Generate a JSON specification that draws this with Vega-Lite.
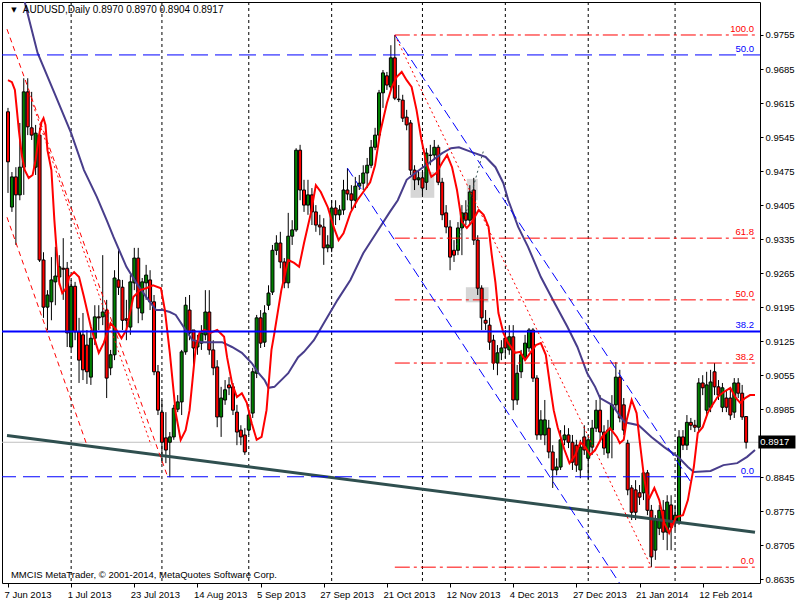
{
"$schema":"https://vega.github.io/schema/vega-lite/v6.json",
"width":758,"height":581,
"autosize":{"type":"none"},
"padding":{"left":2,"top":2,"right":40,"bottom":17},
"background":"white",
"config":{"view":{"stroke":"black","strokeWidth":1},"font":"Liberation Sans","axis":{"labelOverlap":false}},
"datasets":{
"k":[
{"i":0,"o":0.9597,"h":0.9605,"l":0.9430,"c":0.9494},
{"i":1,"o":0.9401,"h":0.9473,"l":0.9391,"c":0.9463},
{"i":2,"o":0.9463,"h":0.9483,"l":0.9323,"c":0.9426},
{"i":3,"o":0.9426,"h":0.9574,"l":0.9415,"c":0.9483},
{"i":4,"o":0.9483,"h":0.9666,"l":0.9426,"c":0.9638},
{"i":5,"o":0.9638,"h":0.9666,"l":0.9549,"c":0.9566},
{"i":6,"o":0.9564,"h":0.9638,"l":0.9539,"c":0.9549},
{"i":7,"o":0.9483,"h":0.9570,"l":0.9467,"c":0.9553},
{"i":8,"o":0.9549,"h":0.9564,"l":0.9288,"c":0.9292},
{"i":9,"o":0.9292,"h":0.9308,"l":0.9173,"c":0.9195},
{"i":10,"o":0.9195,"h":0.9230,"l":0.9148,"c":0.9220},
{"i":11,"o":0.9206,"h":0.9298,"l":0.9168,"c":0.9251},
{"i":12,"o":0.9247,"h":0.9319,"l":0.9199,"c":0.9259},
{"i":13,"o":0.9257,"h":0.9302,"l":0.9240,"c":0.9278},
{"i":14,"o":0.9275,"h":0.9337,"l":0.9210,"c":0.9273},
{"i":15,"o":0.9275,"h":0.9288,"l":0.9113,"c":0.9142},
{"i":16,"o":0.9113,"h":0.9251,"l":0.9107,"c":0.9238},
{"i":17,"o":0.9238,"h":0.9247,"l":0.9127,"c":0.9144},
{"i":18,"o":0.9144,"h":0.9173,"l":0.9039,"c":0.9086},
{"i":19,"o":0.9138,"h":0.9183,"l":0.9045,"c":0.9066},
{"i":20,"o":0.9117,"h":0.9148,"l":0.9037,"c":0.9062},
{"i":21,"o":0.9051,"h":0.9148,"l":0.9035,"c":0.9131},
{"i":22,"o":0.9131,"h":0.9199,"l":0.9117,"c":0.9175},
{"i":23,"o":0.9175,"h":0.9199,"l":0.9148,"c":0.9173},
{"i":24,"o":0.9175,"h":0.9302,"l":0.9158,"c":0.9185},
{"i":25,"o":0.9189,"h":0.9210,"l":0.9008,"c":0.9049},
{"i":26,"o":0.9070,"h":0.9107,"l":0.9055,"c":0.9097},
{"i":27,"o":0.9097,"h":0.9271,"l":0.9086,"c":0.9255},
{"i":28,"o":0.9251,"h":0.9312,"l":0.9220,"c":0.9236},
{"i":29,"o":0.9236,"h":0.9251,"l":0.9148,"c":0.9168},
{"i":30,"o":0.9171,"h":0.9210,"l":0.9127,"c":0.9168},
{"i":31,"o":0.9154,"h":0.9261,"l":0.9138,"c":0.9247},
{"i":32,"o":0.9245,"h":0.9317,"l":0.9230,"c":0.9296},
{"i":33,"o":0.9296,"h":0.9317,"l":0.9162,"c":0.9193},
{"i":34,"o":0.9183,"h":0.9255,"l":0.9168,"c":0.9247},
{"i":35,"o":0.9245,"h":0.9282,"l":0.9210,"c":0.9261},
{"i":36,"o":0.9251,"h":0.9271,"l":0.9189,"c":0.9206},
{"i":37,"o":0.9206,"h":0.9220,"l":0.9055,"c":0.9062},
{"i":38,"o":0.9062,"h":0.9076,"l":0.8973,"c":0.8983},
{"i":39,"o":0.8979,"h":0.9004,"l":0.8874,"c":0.8917},
{"i":40,"o":0.8926,"h":0.8979,"l":0.8874,"c":0.8901},
{"i":41,"o":0.8917,"h":0.8938,"l":0.8845,"c":0.8928},
{"i":42,"o":0.8928,"h":0.8994,"l":0.8922,"c":0.8987},
{"i":43,"o":0.8985,"h":0.9014,"l":0.8979,"c":0.9000},
{"i":44,"o":0.9000,"h":0.9107,"l":0.8973,"c":0.9103},
{"i":45,"o":0.9103,"h":0.9216,"l":0.9097,"c":0.9199},
{"i":46,"o":0.9189,"h":0.9220,"l":0.9127,"c":0.9142},
{"i":47,"o":0.9148,"h":0.9148,"l":0.9072,"c":0.9111},
{"i":48,"o":0.9113,"h":0.9138,"l":0.9097,"c":0.9123},
{"i":49,"o":0.9121,"h":0.9158,"l":0.9107,"c":0.9142},
{"i":50,"o":0.9138,"h":0.9230,"l":0.9127,"c":0.9185},
{"i":51,"o":0.9185,"h":0.9230,"l":0.9097,"c":0.9107},
{"i":52,"o":0.9107,"h":0.9127,"l":0.9055,"c":0.9070},
{"i":53,"o":0.9072,"h":0.9086,"l":0.8948,"c":0.8969},
{"i":54,"o":0.8969,"h":0.9031,"l":0.8928,"c":0.9008},
{"i":55,"o":0.9004,"h":0.9045,"l":0.8994,"c":0.9025},
{"i":56,"o":0.9035,"h":0.9051,"l":0.9014,"c":0.9029},
{"i":57,"o":0.9031,"h":0.9039,"l":0.8973,"c":0.8983},
{"i":58,"o":0.8979,"h":0.8994,"l":0.8911,"c":0.8938},
{"i":59,"o":0.8942,"h":0.8952,"l":0.8911,"c":0.8928},
{"i":60,"o":0.8932,"h":0.8946,"l":0.8891,"c":0.8897},
{"i":61,"o":0.8942,"h":0.8983,"l":0.8932,"c":0.8973},
{"i":62,"o":0.8977,"h":0.9070,"l":0.8967,"c":0.9062},
{"i":63,"o":0.9059,"h":0.9179,"l":0.9049,"c":0.9173},
{"i":64,"o":0.9173,"h":0.9189,"l":0.9111,"c":0.9121},
{"i":65,"o":0.9123,"h":0.9199,"l":0.9113,"c":0.9183},
{"i":66,"o":0.9199,"h":0.9240,"l":0.9189,"c":0.9224},
{"i":67,"o":0.9226,"h":0.9323,"l":0.9220,"c":0.9312},
{"i":68,"o":0.9312,"h":0.9343,"l":0.9302,"c":0.9327},
{"i":69,"o":0.9327,"h":0.9350,"l":0.9275,"c":0.9288},
{"i":70,"o":0.9288,"h":0.9296,"l":0.9234,"c":0.9245},
{"i":71,"o":0.9245,"h":0.9389,"l":0.9234,"c":0.9341},
{"i":72,"o":0.9341,"h":0.9374,"l":0.9323,"c":0.9354},
{"i":73,"o":0.9354,"h":0.9522,"l":0.9350,"c":0.9518},
{"i":74,"o":0.9518,"h":0.9529,"l":0.9415,"c":0.9436},
{"i":75,"o":0.9436,"h":0.9457,"l":0.9391,"c":0.9405},
{"i":76,"o":0.9405,"h":0.9457,"l":0.9385,"c":0.9426},
{"i":77,"o":0.9426,"h":0.9440,"l":0.9364,"c":0.9391},
{"i":78,"o":0.9391,"h":0.9405,"l":0.9350,"c":0.9364},
{"i":79,"o":0.9364,"h":0.9385,"l":0.9343,"c":0.9360},
{"i":80,"o":0.9360,"h":0.9378,"l":0.9282,"c":0.9317},
{"i":81,"o":0.9317,"h":0.9343,"l":0.9308,"c":0.9323},
{"i":82,"o":0.9317,"h":0.9415,"l":0.9308,"c":0.9399},
{"i":83,"o":0.9399,"h":0.9415,"l":0.9364,"c":0.9385},
{"i":84,"o":0.9385,"h":0.9405,"l":0.9374,"c":0.9395},
{"i":85,"o":0.9395,"h":0.9457,"l":0.9385,"c":0.9436},
{"i":86,"o":0.9436,"h":0.9481,"l":0.9415,"c":0.9428},
{"i":87,"o":0.9428,"h":0.9446,"l":0.9395,"c":0.9415},
{"i":88,"o":0.9415,"h":0.9463,"l":0.9399,"c":0.9444},
{"i":89,"o":0.9444,"h":0.9467,"l":0.9436,"c":0.9450},
{"i":90,"o":0.9450,"h":0.9487,"l":0.9436,"c":0.9471},
{"i":91,"o":0.9471,"h":0.9502,"l":0.9440,"c":0.9487},
{"i":92,"o":0.9487,"h":0.9539,"l":0.9481,"c":0.9524},
{"i":93,"o":0.9524,"h":0.9564,"l":0.9518,"c":0.9549},
{"i":94,"o":0.9549,"h":0.9642,"l":0.9539,"c":0.9636},
{"i":95,"o":0.9636,"h":0.9683,"l":0.9605,"c":0.9677},
{"i":96,"o":0.9671,"h":0.9679,"l":0.9642,"c":0.9652},
{"i":97,"o":0.9648,"h":0.9734,"l":0.9642,"c":0.9708},
{"i":98,"o":0.9708,"h":0.9755,"l":0.9621,"c":0.9625},
{"i":99,"o":0.9623,"h":0.9652,"l":0.9617,"c":0.9622},
{"i":100,"o":0.9621,"h":0.9632,"l":0.9576,"c":0.9584},
{"i":101,"o":0.9586,"h":0.9601,"l":0.9559,"c":0.9570},
{"i":102,"o":0.9574,"h":0.9580,"l":0.9467,"c":0.9477},
{"i":103,"o":0.9477,"h":0.9487,"l":0.9436,"c":0.9457},
{"i":104,"o":0.9457,"h":0.9477,"l":0.9446,"c":0.9461},
{"i":105,"o":0.9461,"h":0.9477,"l":0.9426,"c":0.9440},
{"i":106,"o":0.9452,"h":0.9522,"l":0.9436,"c":0.9512},
{"i":107,"o":0.9508,"h":0.9529,"l":0.9487,"c":0.9507},
{"i":108,"o":0.9508,"h":0.9539,"l":0.9498,"c":0.9524},
{"i":109,"o":0.9524,"h":0.9529,"l":0.9446,"c":0.9452},
{"i":110,"o":0.9452,"h":0.9461,"l":0.9374,"c":0.9385},
{"i":111,"o":0.9389,"h":0.9405,"l":0.9347,"c":0.9360},
{"i":112,"o":0.9360,"h":0.9374,"l":0.9271,"c":0.9298},
{"i":113,"o":0.9312,"h":0.9333,"l":0.9288,"c":0.9302},
{"i":114,"o":0.9312,"h":0.9370,"l":0.9302,"c":0.9358},
{"i":115,"o":0.9358,"h":0.9405,"l":0.9302,"c":0.9389},
{"i":116,"o":0.9389,"h":0.9415,"l":0.9364,"c":0.9374},
{"i":117,"o":0.9374,"h":0.9446,"l":0.9364,"c":0.9432},
{"i":118,"o":0.9436,"h":0.9461,"l":0.9323,"c":0.9333},
{"i":119,"o":0.9333,"h":0.9343,"l":0.9220,"c":0.9234},
{"i":120,"o":0.9234,"h":0.9240,"l":0.9148,"c":0.9173},
{"i":121,"o":0.9168,"h":0.9189,"l":0.9148,"c":0.9162},
{"i":122,"o":0.9158,"h":0.9173,"l":0.9107,"c":0.9123},
{"i":123,"o":0.9127,"h":0.9138,"l":0.9066,"c":0.9080},
{"i":124,"o":0.9080,"h":0.9117,"l":0.9055,"c":0.9101},
{"i":125,"o":0.9101,"h":0.9127,"l":0.9086,"c":0.9111},
{"i":126,"o":0.9131,"h":0.9148,"l":0.9090,"c":0.9111},
{"i":127,"o":0.9107,"h":0.9158,"l":0.9097,"c":0.9134},
{"i":128,"o":0.9134,"h":0.9158,"l":0.8983,"c":0.9004},
{"i":129,"o":0.9004,"h":0.9076,"l":0.8994,"c":0.9059},
{"i":130,"o":0.9062,"h":0.9107,"l":0.9049,"c":0.9097},
{"i":131,"o":0.9092,"h":0.9138,"l":0.9086,"c":0.9121},
{"i":132,"o":0.9111,"h":0.9152,"l":0.9103,"c":0.9148},
{"i":133,"o":0.9148,"h":0.9152,"l":0.9041,"c":0.9049},
{"i":134,"o":0.9049,"h":0.9055,"l":0.8922,"c":0.8932},
{"i":135,"o":0.8932,"h":0.8983,"l":0.8922,"c":0.8963},
{"i":136,"o":0.8932,"h":0.9004,"l":0.8911,"c":0.8963},
{"i":137,"o":0.8946,"h":0.8963,"l":0.8884,"c":0.8897},
{"i":138,"o":0.8897,"h":0.8911,"l":0.8823,"c":0.8860},
{"i":139,"o":0.8860,"h":0.8884,"l":0.8849,"c":0.8866},
{"i":140,"o":0.8866,"h":0.8942,"l":0.8860,"c":0.8922},
{"i":141,"o":0.8922,"h":0.8952,"l":0.8911,"c":0.8932},
{"i":142,"o":0.8932,"h":0.8946,"l":0.8905,"c":0.8917},
{"i":143,"o":0.8917,"h":0.8932,"l":0.8860,"c":0.8876},
{"i":144,"o":0.8911,"h":0.8922,"l":0.8856,"c":0.8870},
{"i":145,"o":0.8860,"h":0.8922,"l":0.8843,"c":0.8907},
{"i":146,"o":0.8928,"h":0.8952,"l":0.8891,"c":0.8901},
{"i":147,"o":0.8884,"h":0.8932,"l":0.8839,"c":0.8922},
{"i":148,"o":0.8907,"h":0.8963,"l":0.8891,"c":0.8946},
{"i":149,"o":0.8946,"h":0.9004,"l":0.8938,"c":0.8983},
{"i":150,"o":0.8983,"h":0.9014,"l":0.8922,"c":0.8938},
{"i":151,"o":0.8938,"h":0.8952,"l":0.8891,"c":0.8905},
{"i":152,"o":0.8895,"h":0.8963,"l":0.8884,"c":0.8942},
{"i":153,"o":0.8942,"h":0.9014,"l":0.8884,"c":0.8994},
{"i":154,"o":0.8994,"h":0.9082,"l":0.8983,"c":0.9051},
{"i":155,"o":0.9051,"h":0.9066,"l":0.8958,"c":0.8967},
{"i":156,"o":0.8994,"h":0.9008,"l":0.8932,"c":0.8942},
{"i":157,"o":0.8915,"h":0.8922,"l":0.8808,"c":0.8819},
{"i":158,"o":0.8823,"h":0.8829,"l":0.8757,"c":0.8773},
{"i":159,"o":0.8819,"h":0.8839,"l":0.8757,"c":0.8773},
{"i":160,"o":0.8813,"h":0.8829,"l":0.8788,"c":0.8804},
{"i":161,"o":0.8813,"h":0.8860,"l":0.8798,"c":0.8854},
{"i":162,"o":0.8854,"h":0.8860,"l":0.8767,"c":0.8777},
{"i":163,"o":0.8777,"h":0.8788,"l":0.8660,"c":0.8681},
{"i":164,"o":0.8695,"h":0.8767,"l":0.8675,"c":0.8757},
{"i":165,"o":0.8740,"h":0.8788,"l":0.8726,"c":0.8777},
{"i":166,"o":0.8777,"h":0.8798,"l":0.8716,"c":0.8732},
{"i":167,"o":0.8732,"h":0.8808,"l":0.8695,"c":0.8794},
{"i":168,"o":0.8788,"h":0.8808,"l":0.8695,"c":0.8742},
{"i":169,"o":0.8751,"h":0.8788,"l":0.8736,"c":0.8767},
{"i":170,"o":0.8753,"h":0.8942,"l":0.8747,"c":0.8928},
{"i":171,"o":0.8928,"h":0.8942,"l":0.8901,"c":0.8911},
{"i":172,"o":0.8911,"h":0.8973,"l":0.8901,"c":0.8958},
{"i":173,"o":0.8958,"h":0.8967,"l":0.8942,"c":0.8952},
{"i":174,"o":0.8952,"h":0.8963,"l":0.8938,"c":0.8948},
{"i":175,"o":0.8948,"h":0.9049,"l":0.8938,"c":0.9039},
{"i":176,"o":0.9039,"h":0.9055,"l":0.9014,"c":0.9029},
{"i":177,"o":0.8983,"h":0.9062,"l":0.8973,"c":0.9035},
{"i":178,"o":0.8989,"h":0.9066,"l":0.8979,"c":0.9041},
{"i":179,"o":0.9062,"h":0.9080,"l":0.9014,"c":0.9031},
{"i":180,"o":0.9031,"h":0.9045,"l":0.9004,"c":0.9014},
{"i":181,"o":0.8989,"h":0.9039,"l":0.8979,"c":0.9029},
{"i":182,"o":0.9008,"h":0.9025,"l":0.8979,"c":0.8989},
{"i":183,"o":0.9008,"h":0.9025,"l":0.8963,"c":0.8973},
{"i":184,"o":0.8979,"h":0.9049,"l":0.8967,"c":0.9039},
{"i":185,"o":0.9039,"h":0.9049,"l":0.9008,"c":0.9018},
{"i":186,"o":0.9018,"h":0.9035,"l":0.8963,"c":0.8969},
{"i":187,"o":0.8970,"h":0.8970,"l":0.8904,"c":0.8917}
],
"fast":[
{"i":0,"p":0.9662},{"i":1,"p":0.9658},{"i":1.75,"p":0.9642},{"i":2.25,"p":0.9601},{"i":2.75,"p":0.9559},{"i":3.5,"p":0.9508},{"i":4.25,"p":0.9477},{"i":5.25,"p":0.9461},{"i":6.25,"p":0.9467},{"i":7,"p":0.9498},{"i":7.75,"p":0.9543},{"i":8.5,"p":0.9576},{"i":9,"p":0.9584},{"i":9.5,"p":0.9570},{"i":10,"p":0.9518},{"i":11,"p":0.9477},{"i":11.75,"p":0.9374},{"i":12.25,"p":0.9319},{"i":13,"p":0.9245},{"i":13.75,"p":0.9224},{"i":14.75,"p":0.9234},{"i":15.5,"p":0.9257},{"i":16.75,"p":0.9267},{"i":18,"p":0.9257},{"i":19.25,"p":0.9216},{"i":21,"p":0.9154},{"i":23,"p":0.9101},{"i":24.25,"p":0.9121},{"i":26,"p":0.9162},{"i":27.5,"p":0.9148},{"i":28.75,"p":0.9131},{"i":30,"p":0.9148},{"i":31.75,"p":0.9216},{"i":33.5,"p":0.9230},{"i":35,"p":0.9234},{"i":36.75,"p":0.9240},{"i":38.75,"p":0.9234},{"i":39.75,"p":0.9189},{"i":41,"p":0.9101},{"i":42.5,"p":0.8977},{"i":43.75,"p":0.8922},{"i":45,"p":0.8942},{"i":46,"p":0.8983},{"i":46.75,"p":0.9045},{"i":47.5,"p":0.9107},{"i":48.5,"p":0.9142},{"i":49.75,"p":0.9148},{"i":51.25,"p":0.9142},{"i":53,"p":0.9148},{"i":54.75,"p":0.9134},{"i":55.5,"p":0.9092},{"i":56.75,"p":0.9039},{"i":58,"p":0.9010},{"i":59.25,"p":0.9018},{"i":60.5,"p":0.8998},{"i":61.75,"p":0.8956},{"i":63,"p":0.8922},{"i":64.25,"p":0.8928},{"i":65.5,"p":0.8983},{"i":66.75,"p":0.9107},{"i":67.5,"p":0.9142},{"i":69.25,"p":0.9230},{"i":71,"p":0.9292},{"i":72.5,"p":0.9286},{"i":73.75,"p":0.9278},{"i":75,"p":0.9327},{"i":76.75,"p":0.9389},{"i":78,"p":0.9446},{"i":79.25,"p":0.9432},{"i":81,"p":0.9401},{"i":82.5,"p":0.9360},{"i":83.75,"p":0.9333},{"i":85,"p":0.9347},{"i":86.75,"p":0.9389},{"i":88.5,"p":0.9415},{"i":90,"p":0.9432},{"i":91.75,"p":0.9452},{"i":93,"p":0.9487},{"i":94.25,"p":0.9553},{"i":96,"p":0.9615},{"i":97.25,"p":0.9648},{"i":98.5,"p":0.9669},{"i":99.75,"p":0.9679},{"i":101,"p":0.9662},{"i":102.25,"p":0.9648},{"i":103.5,"p":0.9601},{"i":104.75,"p":0.9539},{"i":106,"p":0.9492},{"i":107.25,"p":0.9463},{"i":108.5,"p":0.9471},{"i":110,"p":0.9492},{"i":111.25,"p":0.9508},{"i":112.5,"p":0.9483},{"i":113.75,"p":0.9436},{"i":115,"p":0.9370},{"i":116.25,"p":0.9358},{"i":117.5,"p":0.9370},{"i":119.25,"p":0.9395},{"i":120.5,"p":0.9385},{"i":121.75,"p":0.9360},{"i":122.5,"p":0.9306},{"i":123.5,"p":0.9245},{"i":124.25,"p":0.9183},{"i":125.5,"p":0.9142},{"i":126.75,"p":0.9121},{"i":128.5,"p":0.9101},{"i":129.75,"p":0.9103},{"i":131,"p":0.9086},{"i":132.5,"p":0.9103},{"i":133.75,"p":0.9117},{"i":135,"p":0.9121},{"i":136.25,"p":0.9097},{"i":137.5,"p":0.9024},{"i":138.25,"p":0.8983},{"i":139.25,"p":0.8948},{"i":141,"p":0.8901},{"i":142.25,"p":0.8874},{"i":143.75,"p":0.8891},{"i":145,"p":0.8917},{"i":146.25,"p":0.8907},{"i":147.5,"p":0.8891},{"i":148.75,"p":0.8901},{"i":150.5,"p":0.8928},{"i":152.5,"p":0.8946},{"i":154.25,"p":0.8928},{"i":155,"p":0.8915},{"i":156,"p":0.8922},{"i":156.75,"p":0.8963},{"i":158,"p":0.9004},{"i":159.25,"p":0.8977},{"i":160,"p":0.8922},{"i":161,"p":0.8854},{"i":161.75,"p":0.8814},{"i":162.5,"p":0.8802},{"i":163.75,"p":0.8823},{"i":165,"p":0.8798},{"i":166.25,"p":0.8751},{"i":167.5,"p":0.8730},{"i":169.25,"p":0.8763},{"i":171,"p":0.8767},{"i":172.25,"p":0.8798},{"i":173,"p":0.8833},{"i":173.75,"p":0.8866},{"i":174.75,"p":0.8936},{"i":176,"p":0.8948},{"i":177.25,"p":0.8977},{"i":178.5,"p":0.8994},{"i":179.75,"p":0.9010},{"i":181.25,"p":0.9020},{"i":183,"p":0.9029},{"i":184.25,"p":0.9010},{"i":185.5,"p":0.8998},{"i":186.75,"p":0.9008},{"i":188,"p":0.9014},{"i":189.25,"p":0.9014}
],
"slow":[
{"i":3.5,"p":0.9848},{"i":4.75,"p":0.9806},{"i":7.5,"p":0.9718},{"i":11.75,"p":0.9636},{"i":16,"p":0.9553},{"i":19.25,"p":0.9477},{"i":22.5,"p":0.9422},{"i":25,"p":0.9374},{"i":26.75,"p":0.9339},{"i":30,"p":0.9278},{"i":32.5,"p":0.9245},{"i":35,"p":0.9216},{"i":37.5,"p":0.9189},{"i":39.25,"p":0.9189},{"i":41,"p":0.9185},{"i":42.5,"p":0.9179},{"i":45,"p":0.9148},{"i":46.75,"p":0.9127},{"i":49.25,"p":0.9123},{"i":54.25,"p":0.9123},{"i":56.75,"p":0.9113},{"i":59.25,"p":0.9101},{"i":61.75,"p":0.9080},{"i":63.5,"p":0.9059},{"i":65,"p":0.9045},{"i":66,"p":0.9029},{"i":67.5,"p":0.9031},{"i":71,"p":0.9059},{"i":73.5,"p":0.9092},{"i":75,"p":0.9103},{"i":77.5,"p":0.9127},{"i":80,"p":0.9162},{"i":83.5,"p":0.9210},{"i":86.75,"p":0.9251},{"i":90,"p":0.9306},{"i":93.5,"p":0.9350},{"i":96.75,"p":0.9391},{"i":98.75,"p":0.9415},{"i":101,"p":0.9457},{"i":103.5,"p":0.9473},{"i":106.75,"p":0.9492},{"i":110,"p":0.9512},{"i":112.25,"p":0.9522},{"i":114.25,"p":0.9524},{"i":117.5,"p":0.9514},{"i":121,"p":0.9504},{"i":123.5,"p":0.9483},{"i":125.5,"p":0.9450},{"i":126.75,"p":0.9415},{"i":129.25,"p":0.9360},{"i":131.75,"p":0.9319},{"i":135,"p":0.9257},{"i":138.5,"p":0.9203},{"i":141.75,"p":0.9154},{"i":144.25,"p":0.9113},{"i":146.75,"p":0.9059},{"i":148.75,"p":0.9031},{"i":150,"p":0.9008},{"i":153,"p":0.8994},{"i":156.25,"p":0.8958},{"i":159.75,"p":0.8952},{"i":163,"p":0.8928},{"i":166.25,"p":0.8907},{"i":169.75,"p":0.8887},{"i":172.25,"p":0.8866},{"i":173.75,"p":0.8856},{"i":178,"p":0.8858},{"i":181.25,"p":0.8870},{"i":184.75,"p":0.8874},{"i":187.25,"p":0.8887},{"i":189.25,"p":0.8901}
],
"rects":[{"i":102,"i2":108,"p":0.9473,"p2":0.9420},{"i":116.25,"i2":119,"p":0.9459,"p2":0.9415},{"i":116,"i2":121.75,"p":0.9236,"p2":0.9205}],
"vgrid":[{"i":16},{"i":39},{"i":61},{"i":82},{"i":105},{"i":126},{"i":147},{"i":169}],
"redfib":[{"i":98,"i2":189.25,"p":0.9755,"lab":"100.0"},{"i":98,"i2":189.25,"p":0.9337,"lab":"61.8"},{"i":98,"i2":189.25,"p":0.9210,"lab":"50.0"},{"i":98,"i2":189.25,"p":0.9080,"lab":"38.2"},{"i":98,"i2":189.25,"p":0.8660,"lab":"0.0"}],
"bluefib":[{"p":0.9714,"lab":"50.0","solid":false},{"p":0.9145,"lab":"38.2","solid":true},{"p":0.8846,"lab":"0.0","solid":false}]
},
"layer":[
{"data":{"name":"rects"},"mark":{"type":"rect","color":"#D6D6D6"},
 "encoding":{
  "x":{"field":"i","type":"quantitative","scale":{"domain":[-0.25,189.25],"nice":false,"zero":false},"title":null,
   "axis":{"orient":"bottom","values":[0,16,32,48,64,80,96,112,128,144,160,176],"tickCount":40,"labelExpr":"['7 Jun 2013','1 Jul 2013','23 Jul 2013','14 Aug 2013','5 Sep 2013','27 Sep 2013','21 Oct 2013','12 Nov 2013','4 Dec 2013','27 Dec 2013','21 Jan 2014','12 Feb 2014'][round(datum.value/16)]","labelAlign":"left","labelBaseline":"top","labelPadding":2,"labelOffset":-4,"labelFont":"Liberation Sans","labelFontSize":9.5,"labelColor":"black","tickColor":"black","tickSize":4,"domain":false,"grid":false,"labelOverlap":false,"labelFlush":false,"labelBound":false}},
  "x2":{"field":"i2"},
  "y":{"field":"p","type":"quantitative","scale":{"domain":[0.86274,0.98229],"nice":false,"zero":false},"title":null,
   "axis":{"orient":"right","values":[0.9755,0.9685,0.9615,0.9545,0.9475,0.9405,0.9335,0.9265,0.9195,0.9125,0.9055,0.8985,0.8845,0.8775,0.8705,0.8635],"tickCount":40,"format":".4f","labelFont":"Liberation Sans","labelFontSize":9.5,"labelColor":"black","tickColor":"black","tickSize":3,"labelPadding":2,"domain":false,"grid":false,"labelOverlap":false,"labelFlush":false,"labelBound":false}},
  "y2":{"field":"p2"}}},
{"data":{"name":"vgrid"},"mark":{"type":"rule","color":"black","strokeWidth":1,"strokeDash":[3,3]},
 "encoding":{"x":{"field":"i","type":"quantitative","title":null}}},
{"data":{"values":[{"p":0.8917}]},"mark":{"type":"rule","color":"#C0C0C0","strokeWidth":1},
 "encoding":{"y":{"field":"p","type":"quantitative","title":null}}},
{"data":{"name":"k"},"mark":{"type":"rule","color":"black","strokeWidth":1},
 "encoding":{"x":{"field":"i","type":"quantitative","title":null},"y":{"field":"l","type":"quantitative","title":null},"y2":{"field":"h"}}},
{"data":{"name":"k"},"mark":{"type":"bar","size":3,"stroke":"black","strokeWidth":1},
 "encoding":{"x":{"field":"i","type":"quantitative","title":null},"y":{"field":"o","type":"quantitative","title":null},"y2":{"field":"c"},
  "fill":{"condition":{"test":"datum.c >= datum.o","value":"#008000"},"value":"#FF0000"}}},
{"data":{"values":[{"i":-0.25,"p":0.8931,"i2":189.25,"p2":0.8732}]},"mark":{"type":"rule","color":"#2F4F4F","strokeWidth":3},
 "encoding":{"x":{"field":"i","type":"quantitative","title":null},"y":{"field":"p","type":"quantitative","title":null},"x2":{"field":"i2"},"y2":{"field":"p2"}}},
{"data":{"name":"slow"},"mark":{"type":"line","color":"#483D8B","strokeWidth":2,"clip":true},
 "encoding":{"x":{"field":"i","type":"quantitative","title":null},"y":{"field":"p","type":"quantitative","title":null}}},
{"data":{"name":"fast"},"mark":{"type":"line","color":"#FF0000","strokeWidth":2,"clip":true},
 "encoding":{"x":{"field":"i","type":"quantitative","title":null},"y":{"field":"p","type":"quantitative","title":null}}},
{"data":{"name":"bluefib"},"mark":{"type":"rule","color":"#0000FF"},
 "encoding":{"y":{"field":"p","type":"quantitative","title":null},
  "strokeWidth":{"condition":{"test":"datum.solid","value":2},"value":1},
  "strokeDash":{"condition":{"test":"datum.solid","value":[1,0]},"value":[17,7]}}},
{"data":{"name":"redfib"},"mark":{"type":"rule","color":"#FF0000","strokeWidth":1,"strokeDash":[15,4,3,4]},
 "encoding":{"x":{"field":"i","type":"quantitative","title":null},"x2":{"field":"i2"},"y":{"field":"p","type":"quantitative","title":null}}},
{"data":{"values":[{"i":98,"p":0.9755,"i2":173.5,"p2":0.8829},{"i":86,"p":0.9481,"i2":155.5,"p2":0.8620}]},"mark":{"type":"rule","color":"#0000FF","strokeWidth":1,"strokeDash":[10,5],"clip":true},
 "encoding":{"x":{"field":"i","type":"quantitative","title":null},"y":{"field":"p","type":"quantitative","title":null},"x2":{"field":"i2"},"y2":{"field":"p2"}}},
{"data":{"values":[{"i":-0.25,"p":0.9380,"i2":20,"p2":0.8911},{"i":-0.25,"p":0.9767,"i2":40.5,"p2":0.8845}]},"mark":{"type":"rule","color":"#FF0000","strokeWidth":1,"strokeDash":[5,4],"clip":true},
 "encoding":{"x":{"field":"i","type":"quantitative","title":null},"y":{"field":"p","type":"quantitative","title":null},"x2":{"field":"i2"},"y2":{"field":"p2"}}},
{"data":{"values":[{"i":5.5,"p":0.9631,"i2":36.25,"p2":0.8911},{"i":98,"p":0.9755,"i2":163,"p2":0.8660}]},"mark":{"type":"rule","color":"#FF0000","strokeWidth":1,"strokeDash":[2,3]},
 "encoding":{"x":{"field":"i","type":"quantitative","title":null},"y":{"field":"p","type":"quantitative","title":null},"x2":{"field":"i2"},"y2":{"field":"p2"}}},
{"data":{"values":[{"i":113.75,"p":0.9323,"i2":120.5,"p2":0.9518}]},"mark":{"type":"rule","color":"#2F4F4F","strokeWidth":1,"strokeDash":[2,3]},
 "encoding":{"x":{"field":"i","type":"quantitative","title":null},"y":{"field":"p","type":"quantitative","title":null},"x2":{"field":"i2"},"y2":{"field":"p2"}}},
{"data":{"name":"redfib"},"mark":{"type":"text","color":"#FF0000","align":"right","baseline":"bottom","dy":-1,"font":"Liberation Sans","fontSize":9.5},
 "encoding":{"x":{"datum":189},"y":{"field":"p","type":"quantitative","title":null},"text":{"field":"lab"}}},
{"data":{"name":"bluefib"},"mark":{"type":"text","color":"#0000FF","align":"right","baseline":"bottom","dy":-1,"font":"Liberation Sans","fontSize":9.5},
 "encoding":{"x":{"datum":189},"y":{"field":"p","type":"quantitative","title":null},"text":{"field":"lab"}}},
{"data":{"values":[{"label":"AUDUSD,Daily  0.8970 0.8970 0.8904 0.8917"}]},"mark":{"type":"text","color":"black","align":"left","baseline":"middle","font":"Liberation Sans","fontSize":10},
 "encoding":{"x":{"datum":3.75},"y":{"datum":0.9806},"text":{"field":"label"}}},
{"data":{"values":[{"label":"▼"}]},"mark":{"type":"text","color":"black","align":"center","baseline":"middle","font":"DejaVu Sans","fontSize":7},
 "encoding":{"x":{"datum":1.5},"y":{"datum":0.9806},"text":{"field":"label"}}},
{"data":{"values":[{"label":"MMCIS MetaTrader, © 2001-2014, MetaQuotes Software Corp."}]},"mark":{"type":"text","color":"black","align":"left","baseline":"middle","font":"Liberation Sans","fontSize":9.5},
 "encoding":{"x":{"datum":0.75},"y":{"datum":0.8644},"text":{"field":"label"}}},
{"data":{"values":[{"label":"0.8917"}]},"mark":{"type":"rect","color":"black"},
 "encoding":{"x":{"datum":190.1},"x2":{"datum":199.5},"y":{"datum":0.8931},"y2":{"datum":0.8904}}},
{"data":{"values":[{"label":"0.8917"}]},"mark":{"type":"text","color":"white","align":"left","baseline":"middle","font":"Liberation Sans","fontSize":9.5},
 "encoding":{"x":{"datum":190.6},"y":{"datum":0.8917},"text":{"field":"label"}}}
]
}
